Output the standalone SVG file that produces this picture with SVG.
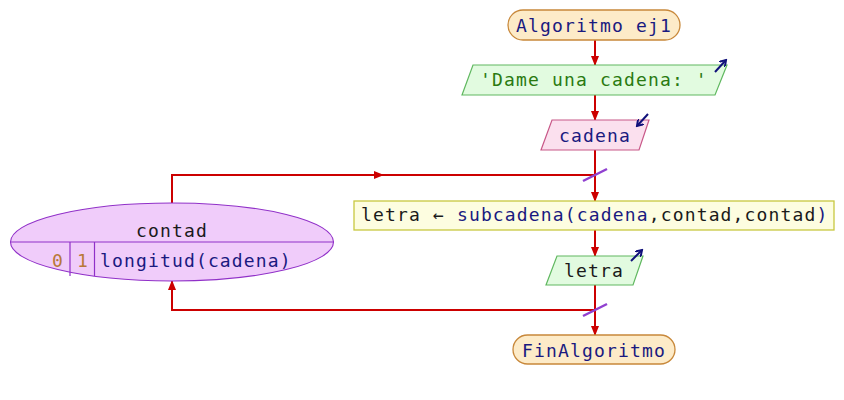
<svg xmlns="http://www.w3.org/2000/svg" width="844" height="400" viewBox="0 0 844 400">
<style>
text{font-family:"DejaVu Sans Mono","Liberation Mono",monospace;font-size:18px;letter-spacing:1.15px}
.c{text-anchor:middle}
.kw{fill:#1a1a80}
.var{fill:#1a1a1a}
.str{fill:#2a7a10}
.num{fill:#b87838}
.term{fill:#fdebc8;stroke:#c8883a;stroke-width:1.3}
.out{fill:#e2fbe0;stroke:#60b860;stroke-width:1.2}
.inp{fill:#fbe0ee;stroke:#c85888;stroke-width:1.2}
.asg{fill:#fdfde0;stroke:#c8c840;stroke-width:1.3}
.loop{fill:#f0ccfa;stroke:#9030c8;stroke-width:1.1}
.edge{fill:none;stroke:#cc0000;stroke-width:2}
.slash{stroke:#9040d0;stroke-width:2.5}
.io{fill:none;stroke:#10107a;stroke-width:2}
</style>
<defs>
<marker id="ah" markerWidth="10" markerHeight="8" refX="9" refY="4" orient="auto" markerUnits="userSpaceOnUse">
<path d="M0,0 L10,4 L0,8 Z" fill="#cc0000"/>
</marker>
<marker id="ioh" markerWidth="8" markerHeight="8" refX="6" refY="4" orient="auto" markerUnits="userSpaceOnUse">
<path d="M0,0 L6,4 L0,8" fill="none" stroke="#10107a" stroke-width="2"/>
</marker>
</defs>
<g id="connectors">
<line class="edge" x1="595" y1="40" x2="595" y2="65" marker-end="url(#ah)"/>
<line class="edge" x1="595" y1="95" x2="595" y2="120" marker-end="url(#ah)"/>
<line class="edge" x1="595" y1="150" x2="595" y2="201" marker-end="url(#ah)"/>
<line class="edge" x1="595" y1="230" x2="595" y2="256" marker-end="url(#ah)"/>
<line class="edge" x1="595" y1="285" x2="595" y2="335" marker-end="url(#ah)"/>
<polyline class="edge" points="172,203 172,175 595,175"/>
<line class="edge" x1="300" y1="175" x2="383" y2="175" marker-end="url(#ah)"/>
<polyline class="edge" points="595,310 172,310 172,281" marker-end="url(#ah)"/>
<line class="slash" x1="583" y1="181" x2="607" y2="169"/>
<line class="slash" x1="583" y1="316" x2="607" y2="304"/>
</g>
<g id="start">
<rect class="term" x="508" y="10" width="172" height="30" rx="15"/>
<text class="c kw" x="594" y="32">Algoritmo ej1</text>
</g>
<g id="output1">
<polygon class="out" points="473,65 727,65 715,95 462,95"/>
<text class="c str" x="594" y="86">'Dame una cadena: '</text>
<line class="io" x1="715" y1="72" x2="726" y2="60" marker-end="url(#ioh)"/>
</g>
<g id="input1">
<polygon class="inp" points="552,120 649,120 639,150 541,150"/>
<text class="c kw" x="595" y="142">cadena</text>
<line class="io" x1="648" y1="114" x2="637" y2="126" marker-end="url(#ioh)"/>
</g>
<g id="loop">
<ellipse class="loop" cx="172" cy="242" rx="161.5" ry="39"/>
<line x1="10.5" y1="242" x2="333.5" y2="242" stroke="#9030c8" stroke-width="1.2"/>
<line x1="70" y1="242" x2="70" y2="276" stroke="#9030c8" stroke-width="1.2"/>
<line x1="94.5" y1="242" x2="94.5" y2="276" stroke="#9030c8" stroke-width="1.2"/>
<text class="c var" x="172" y="237">contad</text>
<text class="num" x="52" y="267">0</text>
<text class="num" x="77" y="267">1</text>
<text class="kw" x="100" y="267">longitud(cadena)</text>
</g>
<g id="assign">
<rect class="asg" x="354" y="201" width="480" height="29"/>
<text x="361" y="221"><tspan class="var">letra ← </tspan><tspan class="kw">subcadena(cadena</tspan><tspan class="var">,contad,contad</tspan><tspan class="kw">)</tspan></text>
</g>
<g id="output2">
<polygon class="out" points="557,256 643,256 633,285 546,285"/>
<text class="c var" x="594" y="277">letra</text>
<line class="io" x1="631" y1="261" x2="642" y2="250" marker-end="url(#ioh)"/>
</g>
<g id="end">
<rect class="term" x="513" y="335" width="162" height="29" rx="14.5"/>
<text class="c kw" x="594" y="357">FinAlgoritmo</text>
</g>
</svg>
